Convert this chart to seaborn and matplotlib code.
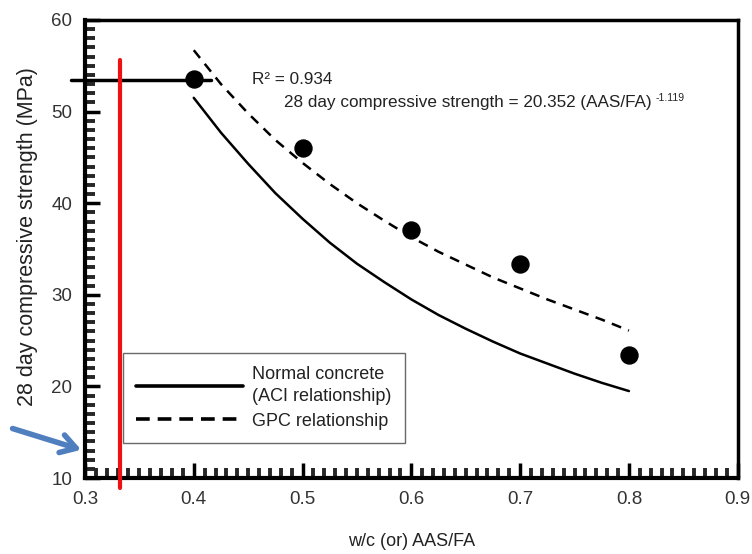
import matplotlib
matplotlib.use("Agg")
import matplotlib.pyplot as plt
from matplotlib.ticker import MultipleLocator
import seaborn as sns
import pandas as pd

sns.set_theme(style="white")
plt.rcParams['font.family'] = ['Liberation Sans', 'DejaVu Sans']

# data
test_x = [0.4, 0.5, 0.6, 0.7, 0.8]
test_strength = [53.6, 46.0, 37.1, 33.4, 23.4]

curve_x = [0.4, 0.425, 0.45, 0.475, 0.5, 0.525, 0.55, 0.575, 0.6,
           0.625, 0.65, 0.675, 0.7, 0.725, 0.75, 0.775, 0.8]
aci_strength = [51.5, 47.7, 44.3, 41.1, 38.3, 35.7, 33.4, 31.4, 29.5,
                27.8, 26.3, 24.9, 23.6, 22.5, 21.4, 20.4, 19.5]
gpc_strength = [56.7, 53.0, 49.8, 46.9, 44.4, 42.1, 40.0, 38.1, 36.3,
                34.7, 33.3, 31.9, 30.7, 29.5, 28.4, 27.3, 26.1]

x_ticks = [0.3, 0.4, 0.5, 0.6, 0.7, 0.8, 0.9]
y_ticks = [10, 20, 30, 40, 50, 60]

aci_name = "Normal concrete\n(ACI relationship)"
gpc_name = "GPC relationship"
curves = pd.DataFrame({
    "x": curve_x * 2,
    "y": aci_strength + gpc_strength,
    "series": [aci_name] * len(curve_x) + [gpc_name] * len(curve_x),
})
pts = pd.DataFrame({"x": test_x, "y": test_strength})

fig = plt.figure(figsize=(7.52, 5.54), dpi=100)
ax = fig.add_axes([0.113, 0.137, 0.868, 0.827])

sns.lineplot(data=curves, x="x", y="y", style="series", color="black", linewidth=1.8,
             dashes={aci_name: "", gpc_name: (4, 3)},
             ax=ax, legend=True)
sns.scatterplot(data=pts, x="x", y="y", color="black", s=150, edgecolor="black", ax=ax, zorder=5)

ax.set_xlim(0.3, 0.9)
ax.set_ylim(10, 60)
ax.set_xticks(x_ticks)
ax.set_yticks(y_ticks)
ax.set_xticklabels([f"{v:.1f}" for v in x_ticks])
ax.set_yticklabels([str(v) for v in y_ticks])
ax.xaxis.set_minor_locator(MultipleLocator(0.01))
ax.yaxis.set_minor_locator(MultipleLocator(1))
ax.tick_params(axis="both", which="major", direction="in", length=11, width=2.5,
               labelsize=13.5, colors="black", pad=9, top=False, right=False, left=True, bottom=True)
ax.tick_params(axis="both", which="minor", direction="in", length=7, width=2.8,
               top=False, right=False, left=True, bottom=True)
for lab in ax.get_xticklabels() + ax.get_yticklabels():
    lab.set_color("#333333")
for side in ["left", "bottom"]:
    ax.spines[side].set_linewidth(3)
    ax.spines[side].set_color("black")
for side in ["top", "right"]:
    ax.spines[side].set_linewidth(2.5)
    ax.spines[side].set_color("black")

ax.set_xlabel("w/c (or) AAS/FA", fontsize=13, color="#222222", labelpad=18)
ax.set_ylabel("28 day compressive strength (MPa)", fontsize=15.5, color="#222222")
ax.yaxis.set_label_coords(-0.072, 0.528)

ax.text(0.4534, 53.5, "R² = 0.934", fontsize=12.3, va="center", color="#222222")
eq = ax.text(0.483, 51.0, "28 day compressive strength = 20.352 (AAS/FA)", fontsize=12.3,
             va="center", color="#222222")
ax.annotate("-1.119", xy=(1, 0.8), xycoords=eq, xytext=(3, 0), textcoords="offset points",
            fontsize=7.5, va="center", ha="left", color="#222222")

# annotation marks drawn on the picture
ax.plot([0.287, 0.416], [53.5, 53.5], color="black", linewidth=2.5, clip_on=False, zorder=4)
ax.plot([0.332, 0.332], [55.6, 8.9], color="#ee1111", linewidth=3, clip_on=False, zorder=6)
ax.annotate("", xy=(0.299, 13.0), xytext=(0.231, 15.5), xycoords="data",
            arrowprops=dict(arrowstyle="->,head_length=0.9,head_width=0.55", color="#4f7fbf", lw=4),
            annotation_clip=False)

leg = ax.legend(loc="lower left", bbox_to_anchor=(0.058, 0.076), borderaxespad=0,
                frameon=True, fancybox=False,
                edgecolor="#444444", fontsize=13, handlelength=5.9, borderpad=0.75,
                labelspacing=0.45, handletextpad=0.5, title=None)
leg.get_frame().set_linewidth(1)
for t in leg.get_texts():
    t.set_color("#222222")
    t.set_linespacing(1.35)
hl = leg.get_lines()
for h in hl:
    h.set_linewidth(2.6)
hl[1].set_dashes([3.8, 2.2])

fig.savefig("out.png", dpi=100)
